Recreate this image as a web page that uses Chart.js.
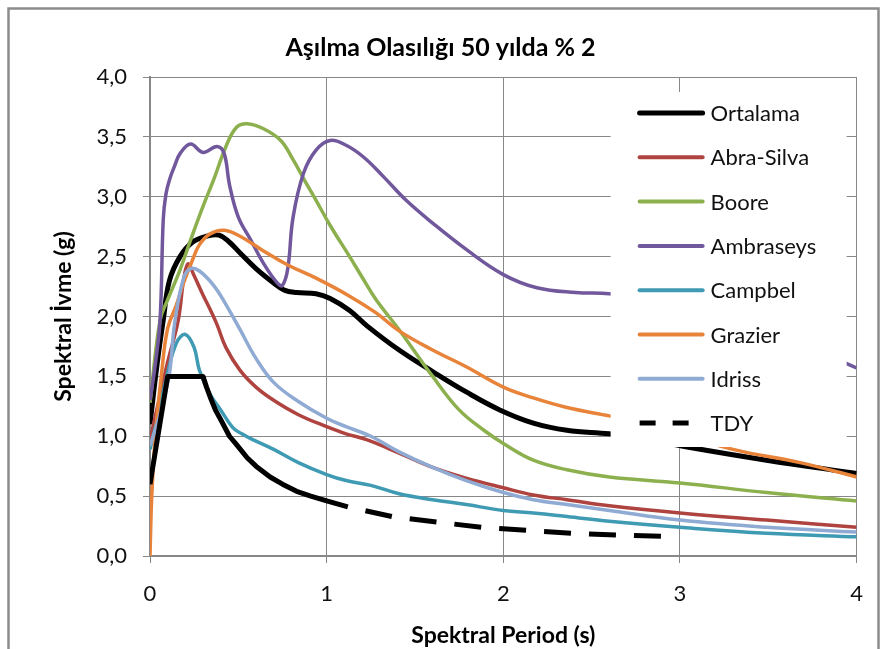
<!DOCTYPE html>
<html>
<head>
<meta charset="utf-8">
<script src="https://cdn.jsdelivr.net/npm/chart.js@4.4.0/dist/chart.umd.min.js"></script>
<style>
    html, body { margin: 0; padding: 0; background: #fff; }
    #wrap { width: 881px; height: 649px; }
</style>
</head>
<body>
<div id="wrap"><canvas id="spectrumChart" width="881" height="649"></canvas></div>
<script>
// [period (s), spectral acceleration (g)]
const ortalama = [[0, 1.1], [0.04, 1.6], [0.075, 1.97], [0.11, 2.3], [0.17, 2.5], [0.24, 2.62], [0.32, 2.67], [0.39, 2.68], [0.45, 2.62], [0.51, 2.53], [0.6, 2.4], [0.7, 2.28], [0.76, 2.22], [0.83, 2.2], [0.94, 2.19], [1.02, 2.15], [1.13, 2.05], [1.23, 1.92], [1.41, 1.72], [1.6, 1.54], [1.79, 1.37], [1.98, 1.22], [2.17, 1.11], [2.36, 1.05], [2.6, 1.02], [2.75, 0.99], [3.04, 0.91], [3.49, 0.8], [4.0, 0.69]];
const abraSilva = [[0, 0.97], [0.05, 1.3], [0.1, 1.62], [0.16, 1.97], [0.19, 2.3], [0.215, 2.44], [0.25, 2.34], [0.3, 2.18], [0.34, 2.06], [0.38, 1.93], [0.43, 1.74], [0.51, 1.55], [0.6, 1.41], [0.7, 1.3], [0.84, 1.18], [1.0, 1.08], [1.11, 1.02], [1.23, 0.97], [1.41, 0.86], [1.6, 0.74], [1.79, 0.65], [2.0, 0.57], [2.17, 0.51], [2.36, 0.47], [2.6, 0.42], [3.0, 0.36], [3.49, 0.3], [4.0, 0.24]];
const boore = [[0, 1.28], [0.057, 1.97], [0.1, 2.14], [0.17, 2.39], [0.23, 2.64], [0.3, 2.92], [0.36, 3.14], [0.43, 3.42], [0.49, 3.58], [0.55, 3.61], [0.64, 3.57], [0.74, 3.47], [0.81, 3.31], [0.87, 3.15], [0.94, 2.97], [1.02, 2.76], [1.13, 2.5], [1.2, 2.33], [1.28, 2.14], [1.41, 1.89], [1.6, 1.5], [1.75, 1.22], [1.89, 1.05], [2.0, 0.94], [2.17, 0.8], [2.36, 0.72], [2.6, 0.66], [3.0, 0.61], [3.49, 0.53], [4.0, 0.46]];
const ambraseys = [[0, 1.3], [0.03, 1.6], [0.057, 1.97], [0.075, 2.81], [0.09, 3.02], [0.11, 3.14], [0.14, 3.26], [0.17, 3.36], [0.23, 3.44], [0.3, 3.37], [0.38, 3.42], [0.42, 3.36], [0.45, 3.1], [0.5, 2.83], [0.57, 2.64], [0.64, 2.45], [0.72, 2.28], [0.75, 2.26], [0.78, 2.4], [0.81, 2.83], [0.87, 3.2], [0.94, 3.39], [1.02, 3.47], [1.11, 3.43], [1.21, 3.33], [1.32, 3.17], [1.45, 2.97], [1.6, 2.78], [1.79, 2.56], [2.0, 2.35], [2.19, 2.24], [2.41, 2.2], [2.6, 2.19], [2.9, 2.13], [3.3, 1.97], [3.7, 1.76], [4.0, 1.57]];
const campbel = [[0, 0.89], [0.05, 1.2], [0.095, 1.5], [0.15, 1.78], [0.2, 1.85], [0.25, 1.74], [0.28, 1.55], [0.34, 1.35], [0.4, 1.22], [0.47, 1.07], [0.52, 1.02], [0.57, 0.98], [0.7, 0.89], [0.84, 0.78], [1.0, 0.68], [1.11, 0.63], [1.25, 0.59], [1.41, 0.52], [1.6, 0.47], [1.79, 0.43], [2.0, 0.38], [2.17, 0.36], [2.36, 0.33], [2.6, 0.29], [3.0, 0.24], [3.49, 0.19], [4.0, 0.16]];
const grazier = [[0, 0], [0.01, 0.5], [0.03, 1.0], [0.066, 1.53], [0.1, 1.9], [0.15, 2.1], [0.19, 2.28], [0.24, 2.47], [0.28, 2.6], [0.34, 2.69], [0.42, 2.72], [0.51, 2.67], [0.64, 2.55], [0.78, 2.43], [0.94, 2.32], [1.13, 2.17], [1.28, 2.03], [1.41, 1.88], [1.6, 1.72], [1.79, 1.58], [2.0, 1.41], [2.17, 1.32], [2.36, 1.24], [2.6, 1.17], [2.77, 1.12], [3.3, 0.89], [3.68, 0.78], [4.0, 0.66]];
const idriss = [[0, 0.92], [0.05, 1.15], [0.09, 1.38], [0.113, 1.55], [0.14, 1.95], [0.19, 2.32], [0.23, 2.4], [0.28, 2.38], [0.36, 2.26], [0.43, 2.1], [0.51, 1.89], [0.6, 1.65], [0.7, 1.45], [0.84, 1.29], [1.0, 1.15], [1.11, 1.08], [1.25, 1.0], [1.41, 0.87], [1.6, 0.74], [1.79, 0.63], [2.0, 0.53], [2.17, 0.47], [2.36, 0.43], [2.6, 0.38], [3.0, 0.3], [3.49, 0.24], [4.0, 0.2]];
const tdy = [[0, 0.6], [0.1, 1.5], [0.3, 1.5], [0.32, 1.41], [0.34, 1.33], [0.37, 1.22], [0.4, 1.14], [0.45, 1.0], [0.49, 0.93], [0.55, 0.82], [0.6, 0.75], [0.68, 0.66], [0.75, 0.6], [0.83, 0.54], [0.91, 0.5], [1.0, 0.46], [1.12, 0.41], [1.37, 0.33], [1.64, 0.28], [1.88, 0.24], [2.13, 0.215], [2.39, 0.19], [2.64, 0.175], [2.9, 0.165]];

const seriesNames = ["Ortalama", "Abra-Silva", "Boore", "Ambraseys", "Campbel", "Grazier", "Idriss", "TDY"];
const seriesData = [ortalama, abraSilva, boore, ambraseys, campbel, grazier, idriss, tdy];
const seriesColors = ["#000000", "#AE433F", "#8DB04E", "#71579C", "#3F9AB3", "#E8833A", "#8FAAD3", "#000000"];

const periodTicks = [0, 1, 2, 3, 4];
const accelTicks = [0, 0.5, 1, 1.5, 2, 2.5, 3, 3.5, 4];

const chartTitle = "Aşılma Olasılığı 50 yılda % 2";
const xTitle = "Spektral Period (s)";
const yTitle = "Spektral İvme (g)";

const FONT = "Lato, 'Open Sans', sans-serif";
const GRID = "#888888";
const TDY_DASH_FROM = 1.12;

const datasets = seriesData.map((pairs, i) => {
    const isTdy = seriesNames[i] === "TDY";
    const isBlack = seriesColors[i] === "#000000";
    return {
        label: seriesNames[i],
        data: pairs.map(([x, y]) => ({ x, y })),
        borderColor: seriesColors[i],
        borderWidth: isBlack ? 5 : 3.5,
        borderJoinStyle: "round",
        pointRadius: 0,
        fill: false,
        tension: isTdy ? 0 : 0.4,
        order: seriesData.length - i,
        segment: isTdy ? {
            borderDash: ctx => (ctx.p0.parsed.x >= TDY_DASH_FROM ? [27, 18] : undefined),
            borderDashOffset: ctx => (ctx.p0.parsed.x >= TDY_DASH_FROM ? 27 : undefined),
        } : undefined,
    };
});

// grey frame round the whole chart, like the spreadsheet export
const framePlugin = {
    id: "frame",
    beforeDraw(chart) {
        const ctx = chart.ctx;
        ctx.save();
        ctx.fillStyle = "#ffffff";
        ctx.fillRect(0, 0, chart.width, chart.height);
        ctx.strokeStyle = "#8c8c8c";
        ctx.lineWidth = 2.5;
        ctx.strokeRect(8.5, 8.5, chart.width - 11, chart.height + 40);
        ctx.restore();
    },
};

// legend box sitting on top of the plot area (upper right)
const overlayLegend = {
    id: "overlayLegend",
    afterDatasetsDraw(chart) {
        const ctx = chart.ctx;
        const area = chart.chartArea;
        const left = area.right - 246;
        const right = area.right - 10;
        const top = area.top + 15;
        const bottom = area.top + 370;
        ctx.save();
        ctx.fillStyle = "#ffffff";
        ctx.fillRect(left, top, right - left, bottom - top);
        ctx.font = "22px " + FONT;
        ctx.textBaseline = "middle";
        ctx.textAlign = "left";
        chart.data.datasets.forEach((ds, i) => {
            const y = top + 21 + i * 44.3;
            const x0 = left + 29;
            ctx.strokeStyle = ds.borderColor;
            ctx.lineWidth = ds.borderColor === "#000000" ? 5 : 4;
            ctx.beginPath();
            if (ds.label === "TDY") {
                ctx.lineCap = "butt";
                ctx.setLineDash([16, 17]);
                ctx.moveTo(x0, y);
                ctx.lineTo(x0 + 50, y);
            } else {
                ctx.lineCap = "round";
                ctx.setLineDash([]);
                ctx.moveTo(x0, y);
                ctx.lineTo(x0 + 63, y);
            }
            ctx.stroke();
            ctx.setLineDash([]);
            ctx.fillStyle = "#111111";
            ctx.fillText(ds.label, x0 + 71, y + 1);
        });
        ctx.restore();
    },
};

new Chart(document.getElementById("spectrumChart"), {
    type: "line",
    data: { datasets },
    options: {
        responsive: false,
        animation: false,
        devicePixelRatio: 1,
        layout: { padding: { left: 24, right: 24, top: 0, bottom: 0 } },
        plugins: {
            legend: { display: false },
            tooltip: { enabled: false },
            title: {
                display: true,
                text: chartTitle,
                color: "#000000",
                font: { family: FONT, size: 25, weight: "bold", lineHeight: 1.2 },
                padding: { top: 33, bottom: 14 },
            },
        },
        scales: {
            x: {
                type: "linear",
                min: 0,
                max: 4,
                afterFit: scale => { scale.height = 93; },
                afterBuildTicks: scale => { scale.ticks = periodTicks.map(v => ({ value: v })); },
                ticks: {
                    color: "#111111",
                    font: { family: FONT, size: 22 },
                    padding: 18,
                    maxRotation: 0,
                    callback: v => String(v),
                },
                grid: { color: GRID, lineWidth: 1, tickLength: 7, drawTicks: true },
                border: { color: GRID, width: 2 },
                title: {
                    display: true,
                    text: xTitle,
                    color: "#000000",
                    font: { family: FONT, size: 23, weight: "bold", lineHeight: 1.2 },
                    padding: { top: 0, bottom: 0 },
                },
            },
            y: {
                type: "linear",
                min: 0,
                max: 4,
                afterFit: scale => { scale.width = 126; },
                afterBuildTicks: scale => { scale.ticks = accelTicks.map(v => ({ value: v })); },
                ticks: {
                    color: "#111111",
                    font: { family: FONT, size: 22 },
                    padding: 16,
                    callback: v => v.toFixed(1).replace(".", ","),
                },
                grid: { color: GRID, lineWidth: 1, tickLength: 7, drawTicks: true },
                border: { color: GRID, width: 2 },
                title: {
                    display: true,
                    text: yTitle,
                    color: "#000000",
                    font: { family: FONT, size: 23, weight: "bold", lineHeight: 1.2 },
                    padding: { top: 26, bottom: 0 },
                },
            },
        },
    },
    plugins: [framePlugin, overlayLegend],
});
</script>
</body>
</html>
